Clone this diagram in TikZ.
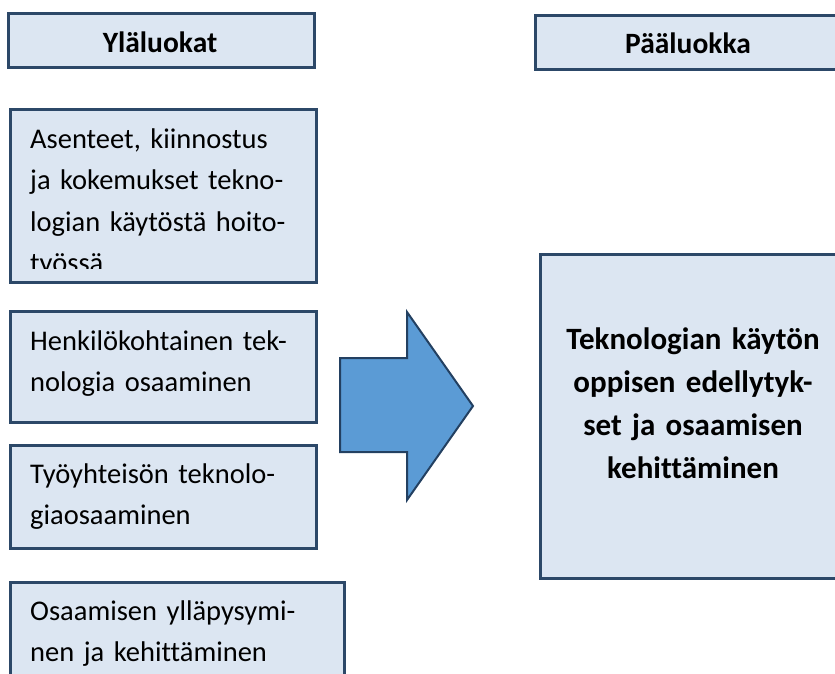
\documentclass[tikz,border=0pt]{standalone}
\usepackage{fontspec}
\setmainfont[Ligatures=NoCommon]{Carlito}
\definecolor{boxfill}{RGB}{220,230,242}
\definecolor{boxline}{RGB}{44,72,104}
\definecolor{arrowfill}{RGB}{91,155,213}
\definecolor{arrowline}{RGB}{35,64,97}
\begin{document}
\begin{tikzpicture}[x=1pt,y=-1pt,
  box/.style={draw=boxline, line width=3pt, fill=boxfill, inner sep=0pt, anchor=north west},
  bodytext/.style={anchor=base west, align=left, inner sep=0pt, text width=320pt,
    font=\fontsize{28.5}{41.5}\selectfont},
  headtext/.style={anchor=base, inner sep=0pt, font=\bfseries\fontsize{29.5}{32}\selectfont},
  maintext/.style={anchor=base, align=center, inner sep=0pt, text width=320pt,
    font=\bfseries\fontsize{31}{43}\selectfont},
  blockarrow/.style={fill=arrowfill, draw=arrowline, line width=2pt, line join=miter}]
\useasboundingbox (0,0) rectangle (835,673);
\clip (0,0) rectangle (835,673);

% headings
\node[box, minimum width=306pt, minimum height=54pt] (hdrL) at (7,12) {};
\node[headtext] (hdrLtxt) at (160,52) {Yläluokat};
\node[box, minimum width=320pt, minimum height=54pt] (hdrR) at (534,14) {};
\node[headtext] (hdrRtxt) at (688,53) {Pääluokka};

% sub-category boxes
\node[box, minimum width=306pt, minimum height=173pt] (b1) at (9,108) {};
\begin{scope}
  \clip (11,110) rectangle (313,268);
  \node[bodytext] (b1txt) at (30,148) {Asenteet, kiinnostus\\ja kokemukset tekno-\\logian käytöstä hoito-\\työssä};
\end{scope}

\node[box, minimum width=306pt, minimum height=111pt] (b2) at (9,310) {};
\node[bodytext] (b2txt) at (30,350) {Henkilökohtainen tek-\\nologia osaaminen};

\node[box, minimum width=306pt, minimum height=103pt] (b3) at (9,444) {};
\node[bodytext] (b3txt) at (30,483) {Työyhteisön teknolo-\\giaosaaminen};

\node[box, minimum width=334pt, minimum height=120pt] (b4) at (9,581) {};
\node[bodytext] (b4txt) at (30,620) {Osaamisen ylläpysymi-\\nen ja kehittäminen};

% main category box
\node[box, minimum width=320pt, minimum height=324pt] (main) at (539,253) {};
\node[maintext] (maintxt) at (693,349) {Teknologian käytön\\oppisen edellytyk-\\set ja osaamisen\\kehittäminen};

% block arrow
\draw[blockarrow] (340,358) -- (407,358) -- (407,312) -- (473,406) -- (407,500)
  -- (407,452) -- (340,452) -- cycle;
\end{tikzpicture}
\end{document}
